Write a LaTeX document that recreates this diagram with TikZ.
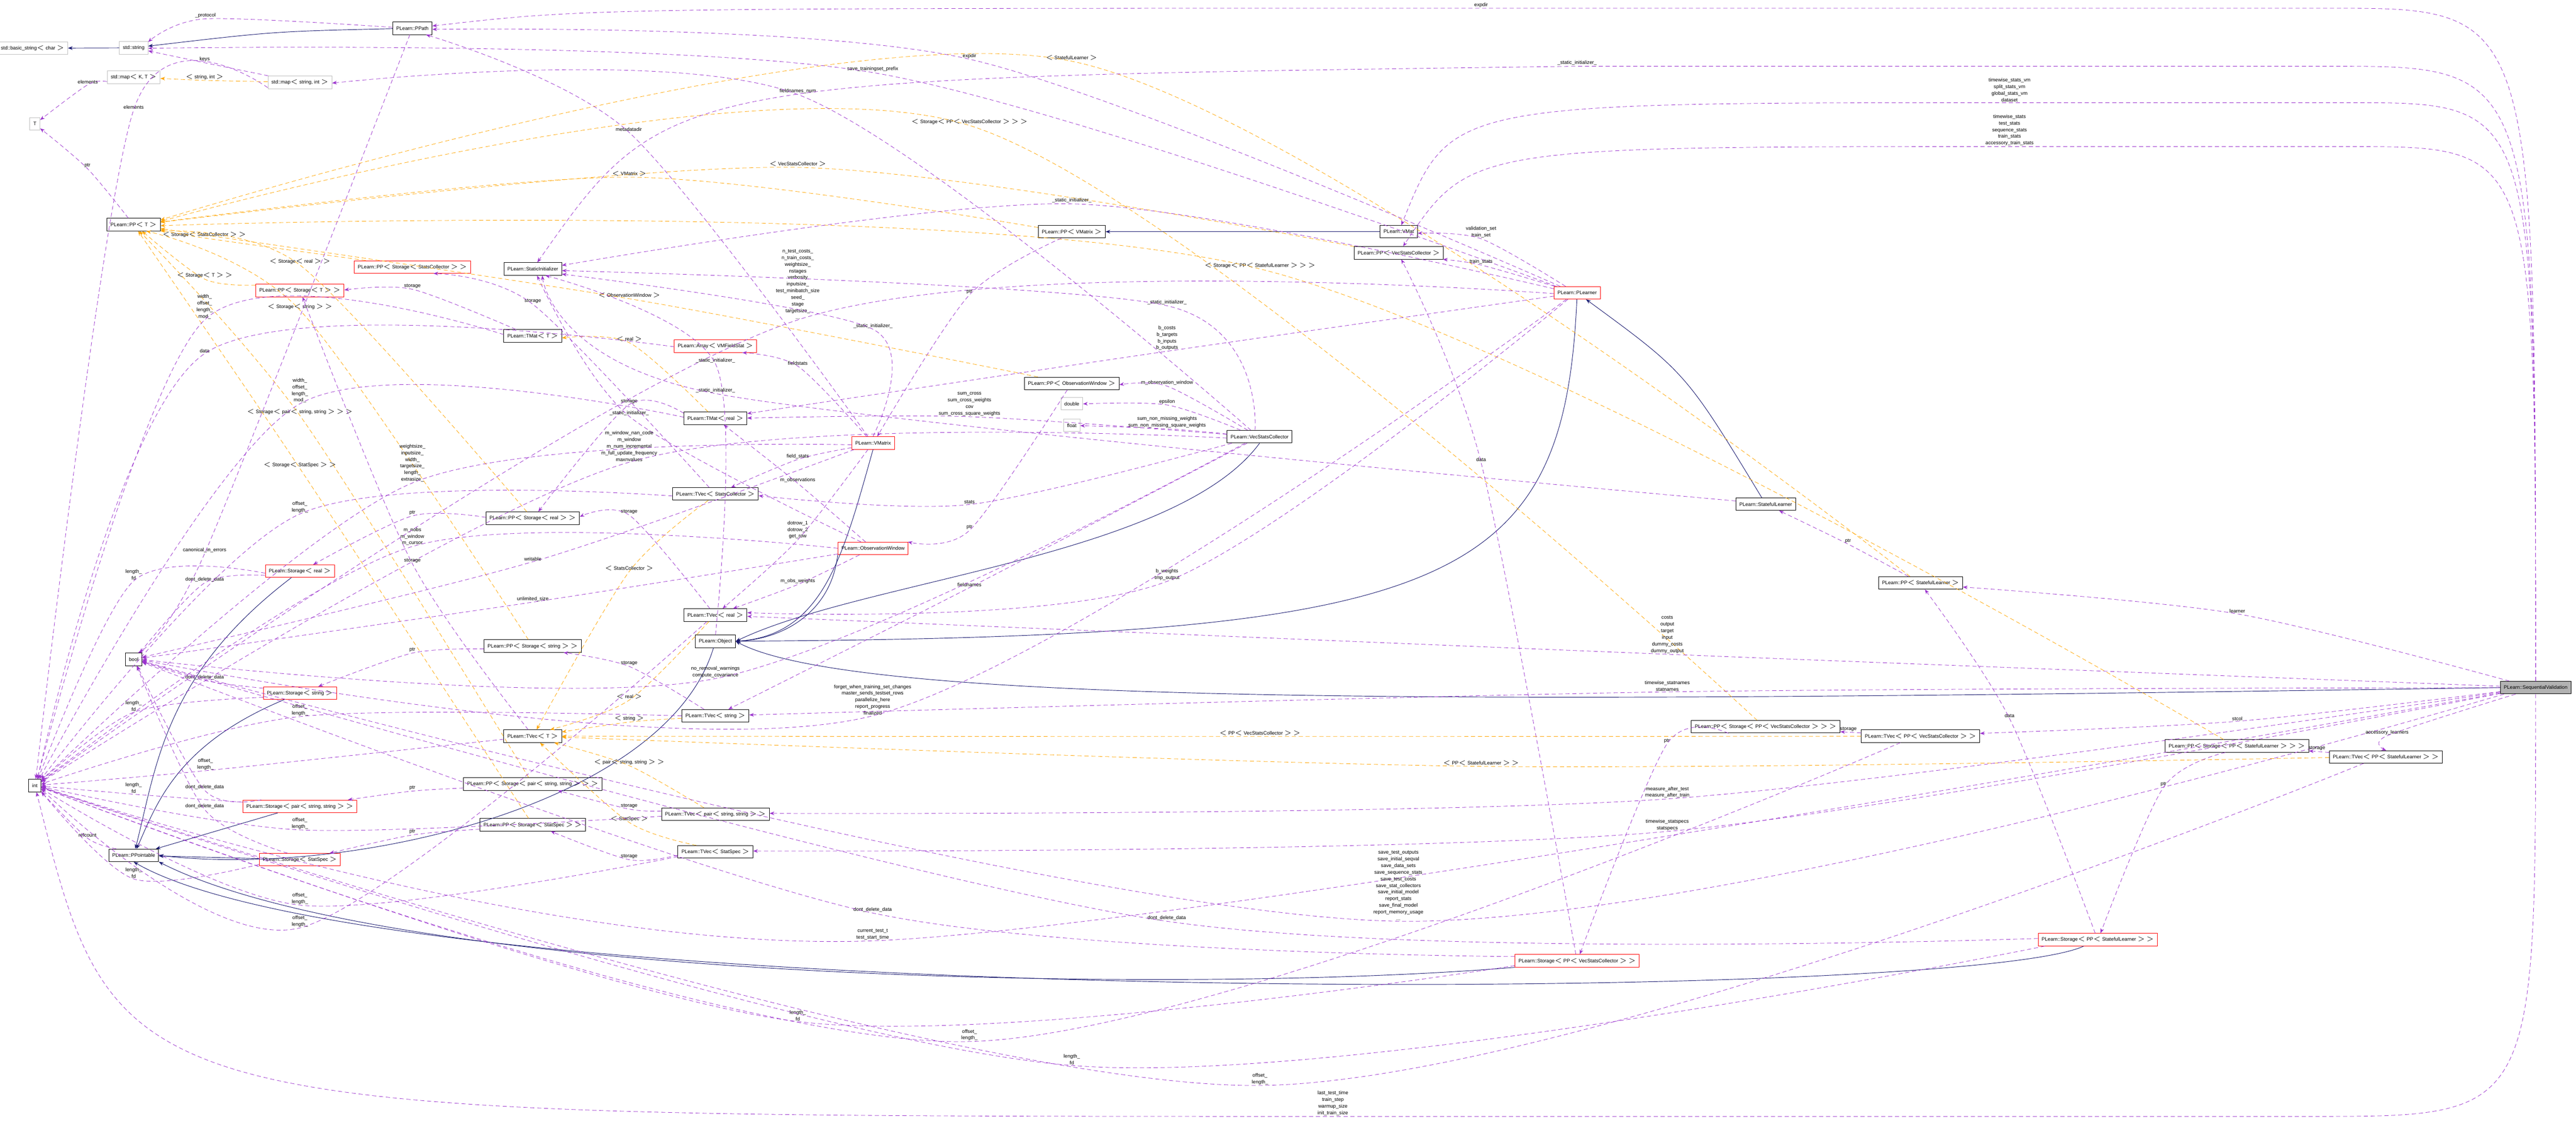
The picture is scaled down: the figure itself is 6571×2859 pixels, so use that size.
\documentclass[tikz,border=0pt]{standalone}
\usepackage{fontspec}
\setmainfont{Liberation Sans}
\usetikzlibrary{calc,arrows.meta}
\definecolor{dpurple}{HTML}{9A32CD}
\definecolor{dorange}{HTML}{FFA500}
\definecolor{dnavy}{HTML}{191970}
\newcounter{lb}
\newcommand\dep[6]{\stepcounter{lb}%
 \coordinate (p\arabic{lb}) at (#4,#5);%
 \node[lab,anchor=south,name=l\arabic{lb}] at (p\arabic{lb}) {#6};%
 \path (#2) -- (p\arabic{lb}) coordinate[pos=0] (s\arabic{lb});%
 \path (p\arabic{lb}) -- (#3) coordinate[pos=1] (t\arabic{lb});%
 \draw[#1] plot[smooth,tension=0.5] coordinates {(s\arabic{lb}) (p\arabic{lb}) (t\arabic{lb})};}
% #7 start anchor, #8 waypoint x, #9 control toward target
\newcommand\depw[9]{\stepcounter{lb}%
 \coordinate (p\arabic{lb}) at (#4,#5);%
 \coordinate (w\arabic{lb}) at (#8,#5);%
 \node[lab,anchor=south,name=l\arabic{lb}] at (p\arabic{lb}) {#6};%
 \draw[#1] (#2.#7) .. controls (#2.#7 |- w\arabic{lb}) .. (w\arabic{lb}) -- (p\arabic{lb}) .. controls (#9) .. (#3);}
\begin{document}
\begin{tikzpicture}[x=0.01cm,y=-0.01cm,
 every node/.style={font=\fontsize{3.6}{4.8}\selectfont},
 box/.style={draw=black,fill=white,line width=0.35pt,minimum height=0.32cm,inner xsep=0.09cm,inner ysep=0pt},
 rbox/.style={box,draw=red},
 gbox/.style={box,draw=gray!50},
 sbox/.style={box,fill=gray!60},
 lab/.style={align=center,inner sep=0.5pt},
 pd/.style={dpurple,densely dashed,line width=0.3pt,-{Stealth[length=0.12cm,width=0.09cm]}},
 od/.style={dorange,densely dashed,line width=0.3pt,-{Stealth[length=0.12cm,width=0.09cm]}},
 inh/.style={dnavy,line width=0.35pt,-{Stealth[length=0.12cm,width=0.09cm]}}]
\useasboundingbox (0,0) rectangle (6571,2859);
% nodes
\node[gbox] (basic) at (83,123) {std::basic\_string$<$ char $>$};
\node[gbox] (stdstring) at (341,122) {std::string};
\node[box] (ppath) at (1052,72) {PLearn::PPath};
\node[gbox] (mapKT) at (341,197) {std::map$<$ K, T $>$};
\node[gbox] (mapsi) at (765,210) {std::map$<$ string, int $>$};
\node[gbox] (T) at (89,316) {T};
\node[box] (ppT) at (341,573) {PLearn::PP$<$ T $>$};
\node[rbox] (ppsSC) at (1052,681) {PLearn::PP$<$ Storage$<$ StatsCollector $>$ $>$};
\node[box] (statinit) at (1359,686) {PLearn::StaticInitializer};
\node[rbox] (ppsT) at (765,741) {PLearn::PP$<$ Storage$<$ T $>$ $>$};
\node[box] (tmatT) at (1359,857) {PLearn::TMat$<$ T $>$};
\node[box] (ppsreal) at (1359,1322) {PLearn::PP$<$ Storage$<$ real $>$ $>$};
\node[rbox] (storreal) at (765,1457) {PLearn::Storage$<$ real $>$};
\node[box] (bool) at (341,1682) {bool};
\node[box] (ppsstring) at (1359,1648) {PLearn::PP$<$ Storage$<$ string $>$ $>$};
\node[rbox] (storstring) at (765,1768) {PLearn::Storage$<$ string $>$};
\node[box] (tvecT) at (1359,1878) {PLearn::TVec$<$ T $>$};
\node[box] (int) at (89,2004) {int};
\node[box] (ppspair) at (1359,2000) {PLearn::PP$<$ Storage$<$ pair$<$ string, string $>$ $>$ $>$};
\node[rbox] (storpair) at (765,2057) {PLearn::Storage$<$ pair$<$ string, string $>$ $>$};
\node[box] (ppsstatspec) at (1359,2104) {PLearn::PP$<$ Storage$<$ StatSpec $>$ $>$};
\node[box] (ppointable) at (341,2182) {PLearn::PPointable};
\node[rbox] (storstatspec) at (765,2193) {PLearn::Storage$<$ StatSpec $>$};
\node[box] (ppvm) at (2734,591) {PLearn::PP$<$ VMatrix $>$};
\node[rbox] (array) at (1825,883) {PLearn::Array$<$ VMFieldStat $>$};
\node[box] (ppobsw) at (2734,978) {PLearn::PP$<$ ObservationWindow $>$};
\node[gbox] (double) at (2734,1030) {double};
\node[gbox] (float) at (2734,1085) {float};
\node[box] (tmatreal) at (1825,1067) {PLearn::TMat$<$ real $>$};
\node[box] (vsc) at (3213,1114) {PLearn::VecStatsCollector};
\node[rbox] (vmatrix) at (2227,1130) {PLearn::VMatrix};
\node[box] (tvecSC) at (1825,1260) {PLearn::TVec$<$ StatsCollector $>$};
\node[rbox] (obsw) at (2227,1399) {PLearn::ObservationWindow};
\node[box] (tvecreal) at (1825,1569) {PLearn::TVec$<$ real $>$};
\node[box] (object) at (1825,1636) {PLearn::Object};
\node[box] (tvecstring) at (1825,1826) {PLearn::TVec$<$ string $>$};
\node[box] (tvecpair) at (1825,2077) {PLearn::TVec$<$ pair$<$ string, string $>$ $>$};
\node[box] (tvecstatspec) at (1825,2173) {PLearn::TVec$<$ StatSpec $>$};
\node[box] (vmat) at (3568,591) {PLearn::VMat};
\node[box] (ppvsc) at (3568,645) {PLearn::PP$<$ VecStatsCollector $>$};
\node[rbox] (plearner) at (4023,747) {PLearn::PLearner};
\node[box] (sl) at (4504,1286) {PLearn::StatefulLearner};
\node[box] (ppsl) at (4899,1487) {PLearn::PP$<$ StatefulLearner $>$};
\node[box] (ppsppvsc) at (4504,1854) {PLearn::PP$<$ Storage$<$ PP$<$ VecStatsCollector $>$ $>$ $>$};
\node[box] (tvecppvsc) at (4899,1878) {PLearn::TVec$<$ PP$<$ VecStatsCollector $>$ $>$};
\node[rbox] (storppvsc) at (4023,2451) {PLearn::Storage$<$ PP$<$ VecStatsCollector $>$ $>$};
\node[sbox] (seqval) at (6468,1754) {PLearn::SequentialValidation};
\node[box] (ppsppsl) at (5706,1903) {PLearn::PP$<$ Storage$<$ PP$<$ StatefulLearner $>$ $>$ $>$};
\node[box] (tvecppsl) at (6086,1931) {PLearn::TVec$<$ PP$<$ StatefulLearner $>$ $>$};
\node[rbox] (storppsl) at (5351,2397) {PLearn::Storage$<$ PP$<$ StatefulLearner $>$ $>$};
% inheritance
\draw[inh] (stdstring) -- (basic);
\draw[inh] (ppath) .. controls (700,80) .. (stdstring);
\draw[inh] (vmat) -- (ppvm);
\draw[inh] (sl) .. controls (4300,950) .. (plearner);
\draw[inh] (plearner) .. controls (3990,1500) and (3700,1625) .. (object);
\draw[inh] (vmatrix.south) .. controls (2150,1420) and (2100,1620) .. (object.east);
\draw[inh] (vsc.south) .. controls (3000,1420) and (2200,1480) .. (object.east);
\draw[inh] (obsw.south west) .. controls (2120,1560) and (2000,1630) .. (object.east);
\draw[inh] (seqval.west) .. controls (4000,1790) and (2200,1810) .. (object.east);
\draw[inh] (object) .. controls (1700,2050) and (900,2240) .. (ppointable.east);
\draw[inh] (storreal) .. controls (420,1720) and (400,1950) .. (ppointable);
\draw[inh] (storstring) .. controls (450,1900) and (400,2050) .. (ppointable);
\draw[inh] (storpair) -- (ppointable);
\draw[inh] (storstatspec) -- (ppointable);
\draw[inh] (storppvsc.south west) .. controls (3000,2540) and (1000,2500) .. (ppointable.south east);
\draw[inh] (storppsl) .. controls (5000,2560) and (1000,2580) .. (ppointable.south);
% templates
\dep{od}{mapsi}{mapKT}{522}{205}{$<$ string, int $>$}
\dep{od}{ppvm}{ppT}{1605}{452}{$<$ VMatrix $>$}
\dep{od}{ppsSC}{ppT}{521}{607}{$<$ Storage$<$ StatsCollector $>$ $>$}
\dep{od}{ppsreal}{ppT}{765}{676}{$<$ Storage$<$ real $>$ $>$}
\dep{od}{ppsT}{ppT}{522}{712}{$<$ Storage$<$ T $>$ $>$}
\dep{od}{ppobsw}{ppT}{1605}{762}{$<$ ObservationWindow $>$}
\dep{od}{tmatreal}{tmatT}{1605}{874}{$<$ real $>$}
\dep{od}{ppsstring}{ppT}{765}{791}{$<$ Storage$<$ string $>$ $>$}
\dep{od}{ppspair}{ppT}{765}{1060}{$<$ Storage$<$ pair$<$ string, string $>$ $>$ $>$}
\dep{od}{ppsstatspec}{ppT}{765}{1195}{$<$ Storage$<$ StatSpec $>$ $>$}
\dep{od}{tvecSC}{tvecT}{1605}{1458}{$<$ StatsCollector $>$}
\dep{od}{tvecreal}{tvecT}{1605}{1786}{$<$ real $>$}
\dep{od}{tvecstring}{tvecT}{1605}{1842}{$<$ string $>$}
\dep{od}{tvecpair}{tvecT}{1605}{1953}{$<$ pair$<$ string, string $>$ $>$}
\dep{od}{tvecstatspec}{tvecT}{1605}{2098}{$<$ StatSpec $>$}
\dep{od}{ppsl}{ppT}{2733}{156}{$<$ StatefulLearner $>$}
\dep{od}{ppsppvsc}{ppT}{2473}{320}{$<$ Storage$<$ PP$<$ VecStatsCollector $>$ $>$ $>$}
\dep{od}{ppvsc}{ppT}{2035}{427}{$<$ VecStatsCollector $>$}
\dep{od}{ppsppsl}{ppT}{3214}{686}{$<$ Storage$<$ PP$<$ StatefulLearner $>$ $>$ $>$}
\dep{od}{tvecppvsc}{tvecT}{3214}{1879}{$<$ PP$<$ VecStatsCollector $>$ $>$}
\dep{od}{tvecppsl}{tvecT}{3778}{1955}{$<$ PP$<$ StatefulLearner $>$ $>$}
% usage
\dep{pd}{ppath}{stdstring}{524}{48}{\_protocol}
\dep{pd}{mapsi}{stdstring}{522}{160}{keys}
\dep{pd}{mapKT}{T}{224}{216}{elements}
\dep{pd}{mapsi}{int}{341}{280}{elements}
\dep{pd}{ppT}{T}{223}{430}{ptr}
\dep{pd}{vmatrix}{ppath}{1604}{337}{metadatadir}
\dep{pd}{tmatT}{ppsT}{1052}{738}{storage}
\dep{pd}{tvecSC}{ppsSC}{1359}{776}{storage}
\dep{pd}{tmatT}{int}{522}{816}{width\_\\offset\_\\length\_\\mod\_}
\dep{pd}{array}{int}{522}{902}{data}
\dep{pd}{tmatreal}{int}{765}{1030}{width\_\\offset\_\\length\_\\mod\_}
\dep{pd}{tmatreal}{ppsreal}{1605}{1032}{storage}
\dep{pd}{obsw}{statinit}{1605}{1062}{\_static\_initializer\_}
\dep{pd}{vsc}{int}{1605}{1179}{m\_window\_nan\_code\\m\_window\\m\_num\_incremental\\m\_full\_update\_frequency\\maxnvalues}
\dep{pd}{vmatrix}{int}{1052}{1232}{weightsize\_\\inputsize\_\\width\_\\targetsize\_\\length\_\\extrasize\_}
\dep{pd}{tvecSC}{int}{765}{1311}{offset\_\\length\_}
\dep{pd}{ppsreal}{storreal}{1052}{1316}{ptr}
\dep{pd}{tvecreal}{ppsreal}{1605}{1314}{storage}
\dep{pd}{obsw}{int}{1052}{1394}{m\_nobs\\m\_window\\m\_cursor}
\dep{pd}{ppath}{bool}{522}{1412}{canonical\_in\_errors}
\dep{pd}{tvecT}{ppsT}{1052}{1438}{storage}
\dep{pd}{vmatrix}{bool}{1359}{1433}{writable}
\dep{pd}{storreal}{int}{341}{1482}{length\_\\fd}
\dep{pd}{storreal}{bool}{522}{1487}{dont\_delete\_data}
\dep{pd}{obsw}{bool}{1359}{1536}{unlimited\_size}
\dep{pd}{ppsstring}{storstring}{1052}{1666}{ptr}
\dep{pd}{tvecstring}{ppsstring}{1605}{1700}{storage}
\dep{pd}{storstring}{bool}{522}{1736}{dont\_delete\_data}
\dep{pd}{storstring}{int}{341}{1817}{length\_\\fd}
\dep{pd}{tvecstring}{int}{765}{1828}{offset\_\\length\_}
\dep{pd}{tvecT}{int}{524}{1966}{offset\_\\length\_}
\dep{pd}{storpair}{int}{341}{2026}{length\_\\fd}
\dep{pd}{storpair}{bool}{522}{2016}{dont\_delete\_data}
\dep{pd}{ppspair}{storpair}{1052}{2018}{ptr}
\dep{pd}{tvecpair}{ppspair}{1605}{2064}{storage}
\dep{pd}{storstatspec}{bool}{522}{2065}{dont\_delete\_data}
\dep{pd}{tvecpair}{int}{765}{2117}{offset\_\\length\_}
\dep{pd}{ppointable}{int}{223}{2138}{refcount}
\dep{pd}{ppsstatspec}{storstatspec}{1052}{2130}{ptr}
\dep{pd}{tvecstatspec}{ppsstatspec}{1605}{2193}{storage}
\dep{pd}{storstatspec}{int}{341}{2242}{length\_\\fd}
\dep{pd}{tvecstatspec}{int}{765}{2309}{offset\_\\length\_}
\dep{pd}{tvecreal}{int}{765}{2367}{offset\_\\length\_}
\dep{pd}{plearner}{ppath}{2473}{151}{expdir}
\dep{pd}{plearner}{stdstring}{2226}{185}{save\_trainingset\_prefix}
\dep{pd}{vsc}{mapsi}{2035}{241}{fieldnames\_num}
\dep{pd}{plearner}{statinit}{2734}{520}{\_static\_initializer\_}
\dep{pd}{plearner}{int}{2035}{816}{n\_test\_costs\_\\n\_train\_costs\_\\weightsize\_\\nstages\\verbosity\\inputsize\_\\test\_minibatch\_size\\seed\_\\stage\\targetsize\_\\...}
\dep{pd}{ppvm}{vmatrix}{2473}{752}{ptr}
\dep{pd}{vsc}{statinit}{2977}{780}{\_static\_initializer\_}
\dep{pd}{vmatrix}{statinit}{2227}{840}{\_static\_initializer\_}
\dep{pd}{plearner}{tmatreal}{2977}{896}{b\_costs\\b\_targets\\b\_inputs\\b\_outputs}
\dep{pd}{object}{statinit}{1825}{928}{\_static\_initializer\_}
\dep{pd}{vmatrix}{array}{2035}{934}{fieldstats}
\dep{pd}{vsc}{ppobsw}{2977}{985}{m\_observation\_window}
\dep{pd}{sl}{statinit}{1825}{1004}{\_static\_initializer\_}
\dep{pd}{vsc}{tmatreal}{2473}{1063}{sum\_cross\\sum\_cross\_weights\\cov\\sum\_cross\_square\_weights}
\dep{pd}{vsc}{double}{2977}{1033}{epsilon}
\dep{pd}{vsc}{float}{2977}{1094}{sum\_non\_missing\_weights\\sum\_non\_missing\_square\_weights}
\dep{pd}{vmatrix}{tvecSC}{2035}{1172}{field\_stats}
\dep{pd}{obsw}{tmatreal}{2035}{1233}{m\_observations}
\dep{pd}{vsc}{tvecSC}{2473}{1287}{stats}
\dep{pd}{ppobsw}{obsw}{2473}{1353}{ptr}
\dep{pd}{vmatrix}{tvecreal}{2035}{1377}{dotrow\_1\\dotrow\_2\\get\_row}
\dep{pd}{obsw}{tvecreal}{2035}{1491}{m\_obs\_weights}
\dep{pd}{plearner}{tvecreal}{2977}{1483}{b\_weights\\tmp\_output}
\dep{pd}{vsc}{tvecstring}{2473}{1499}{fieldnames}
\dep{pd}{vsc}{bool}{1825}{1731}{no\_removal\_warnings\\compute\_covariance}
\dep{pd}{plearner}{bool}{2226}{1826}{forget\_when\_training\_set\_changes\\master\_sends\_testset\_rows\\parallelize\_here\\report\_progress\\finalized}
\dep{pd}{storppvsc}{bool}{2226}{2329}{dont\_delete\_data}
\dep{pd}{storppsl}{bool}{2976}{2350}{dont\_delete\_data}
\dep{pd}{seqval}{int}{2226}{2400}{current\_test\_t\\test\_start\_time}
\dep{pd}{storppvsc}{int}{2035}{2606}{length\_\\fd}
\dep{pd}{tvecppvsc}{int}{2473}{2657}{offset\_\\length\_}
\dep{pd}{storppsl}{int}{2734}{2718}{length\_\\fd}
\dep{pd}{tvecppsl}{int}{3214}{2769}{offset\_\\length\_}
\depw{pd}{seqval}{int}{3400}{2848}{last\_test\_time\\train\_step\\warmup\_size\\init\_train\_size}{south}{5900}{300,2848}
\depw{pd}{seqval}{ppath}{3778}{21}{expdir}{north}{5950}{1500,21}
\depw{pd}{seqval}{statinit}{4023}{169}{\_static\_initializer\_}{north}{5950}{1700,200}
\dep{pd}{plearner}{vmat}{3778}{609}{validation\_set\\train\_set}
\dep{pd}{plearner}{ppvsc}{3778}{676}{train\_stats}
\dep{pd}{storppvsc}{ppvsc}{3778}{1180}{data}
\dep{pd}{ppsl}{sl}{4714}{1388}{ptr}
\dep{pd}{seqval}{tvecreal}{4253}{1669}{costs\\output\\target\\input\\dummy\_costs\\dummy\_output}
\dep{pd}{seqval}{tvecstring}{4253}{1765}{timewise\_statnames\\statnames}
\dep{pd}{tvecppvsc}{ppsppvsc}{4715}{1868}{storage}
\dep{pd}{ppsppvsc}{storppvsc}{4252}{1898}{ptr}
\dep{pd}{seqval}{tvecpair}{4253}{2038}{measure\_after\_test\\measure\_after\_train}
\dep{pd}{seqval}{tvecstatspec}{4253}{2121}{timewise\_statspecs\\statspecs}
\dep{pd}{seqval}{bool}{3567}{2350}{save\_test\_outputs\\save\_initial\_seqval\\save\_data\_sets\\save\_sequence\_stats\\save\_test\_costs\\save\_stat\_collectors\\save\_initial\_model\\report\_stats\\save\_final\_model\\report\_memory\_usage\\...}
\depw{pd}{seqval}{vmat}{5126}{262}{timewise\_stats\_vm\\split\_stats\_vm\\global\_stats\_vm\\dataset}{north}{6000}{3700,262}
\depw{pd}{seqval}{ppvsc}{5126}{374}{timewise\_stats\\test\_stats\\sequence\_stats\\train\_stats\\accessory\_train\_stats}{north}{6000}{3750,374}
\dep{pd}{seqval}{ppsl}{5707}{1566}{learner}
\dep{pd}{storppsl}{ppsl}{5126}{1833}{data}
\dep{pd}{seqval}{tvecppvsc}{5707}{1840}{stcol}
\dep{pd}{seqval}{tvecppsl}{6089}{1877}{accessory\_learners}
\dep{pd}{tvecppsl}{ppsppsl}{5910}{1917}{storage}
\dep{pd}{ppsppsl}{storppsl}{5519}{2008}{ptr}
\end{tikzpicture}
\end{document}
